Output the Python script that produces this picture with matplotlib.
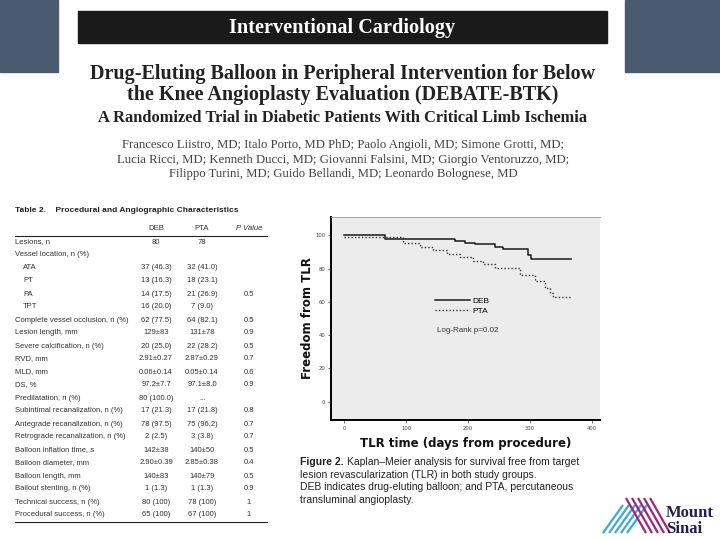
#!/usr/bin/env python3

import matplotlib
matplotlib.use('Agg')
import matplotlib.pyplot as plt
from matplotlib.patches import Rectangle
from matplotlib.lines import Line2D

W, H = 720, 540

# Kaplan-Meier curves
deb_days = [0, 66, 179, 195, 211, 244, 256, 297, 302, 366]
deb_free = [100, 98.0, 96.7, 95.6, 94.5, 93.2, 91.8, 88.0, 85.8, 85.8]
pta_days = [0, 95, 123, 144, 166, 187, 208, 224, 244, 284, 308, 324, 332, 337, 366]
pta_free = [98.8, 95.6, 92.9, 91.3, 89.0, 87.0, 84.7, 83.0, 80.3, 76.0, 72.7, 68.3, 65.6, 62.8, 62.8]
x_ticks = [0, 100, 200, 300, 400]
y_ticks = [0, 20, 40, 60, 80, 100]

# Table 2
row_labels = [
    'Lesions, n', 'Vessel location, n (%)', 'ATA', 'PT', 'PA', 'TPT',
    'Complete vessel occlusion, n (%)', 'Lesion length, mm',
    'Severe calcification, n (%)', 'RVD, mm', 'MLD, mm', 'DS, %',
    'Predilatation, n (%)', 'Subintimal recanalization, n (%)',
    'Antegrade recanalization, n (%)', 'Retrograde recanalization, n (%)',
    'Balloon inflation time, s', 'Balloon diameter, mm', 'Balloon length, mm',
    'Bailout stenting, n (%)', 'Technical success, n (%)', 'Procedural success, n (%)',
]
indented = ['ATA', 'PT', 'PA', 'TPT']
deb_col = ['80', '', '37 (46.3)', '13 (16.3)', '14 (17.5)', '16 (20.0)', '62 (77.5)',
           '129±83', '20 (25.0)', '2.91±0.27', '0.06±0.14', '97.2±7.7', '80 (100.0)',
           '17 (21.3)', '78 (97.5)', '2 (2.5)', '142±38', '2.90±0.39', '140±83',
           '1 (1.3)', '80 (100)', '65 (100)']
pta_col = ['78', '', '32 (41.0)', '18 (23.1)', '21 (26.9)', '7 (9.0)', '64 (82.1)',
           '131±78', '22 (28.2)', '2.87±0.29', '0.05±0.14', '97.1±8.0', '...',
           '17 (21.8)', '75 (96.2)', '3 (3.8)', '140±50', '2.85±0.38', '140±79',
           '1 (1.3)', '78 (100)', '67 (100)']
p_col = ['', '', '', '', '0.5', '', '0.5', '0.9', '0.5', '0.7', '0.6', '0.9', '',
         '0.8', '0.7', '0.7', '0.5', '0.4', '0.5', '0.9', '1', '1']

authors = [
    'Francesco Liistro, MD; Italo Porto, MD PhD; Paolo Angioli, MD; Simone Grotti, MD;',
    'Lucia Ricci, MD; Kenneth Ducci, MD; Giovanni Falsini, MD; Giorgio Ventoruzzo, MD;',
    'Filippo Turini, MD; Guido Bellandi, MD; Leonardo Bolognese, MD',
]
caption = [
    'lesion revascularization (TLR) in both study groups.',
    'DEB indicates drug-eluting balloon; and PTA, percutaneous',
    'transluminal angioplasty.',
]


def fx(x):
    return x / W


def fy(y):
    return 1 - y / H


fig = plt.figure(figsize=(7.2, 5.4), dpi=100)
fig.patch.set_facecolor('white')

serif = ['Liberation Serif', 'DejaVu Serif']
sans = ['Liberation Sans', 'DejaVu Sans']
txt = '#333333'

# slide decoration
side = '#4a5a6f'
fig.patches.append(Rectangle((0, fy(72)), fx(58), 72 / H, transform=fig.transFigure,
                             color=side, zorder=0))
fig.patches.append(Rectangle((fx(625), fy(72)), fx(95), 72 / H, transform=fig.transFigure,
                             color=side, zorder=0))
fig.patches.append(Rectangle((fx(78), fy(43)), fx(607 - 78), 32 / H, transform=fig.transFigure,
                             color='#1a1a1a', zorder=1))

fig.text(fx(342), fy(28), 'Interventional Cardiology', color='white', family=serif,
         weight='bold', fontsize=14.6, ha='center', va='center')
fig.text(fx(343), fy(74), 'Drug-Eluting Balloon in Peripheral Intervention for Below',
         family=serif, weight='bold', fontsize=14.5, ha='center', va='center', color='#222222')
fig.text(fx(343), fy(95), 'the Knee Angioplasty Evaluation (DEBATE-BTK)',
         family=serif, weight='bold', fontsize=14.5, ha='center', va='center', color='#222222')
fig.text(fx(343), fy(118), 'A Randomized Trial in Diabetic Patients With Critical Limb Ischemia',
         family=serif, weight='bold', fontsize=11.8, ha='center', va='center', color='#222222')
for i, line in enumerate(authors):
    fig.text(fx(343), fy(145 + i * 14.5), line, family=serif, fontsize=9.2,
             ha='center', va='center', color='#444444')

# table
fig.text(fx(15), fy(211), 'Table 2.    Procedural and Angiographic Characteristics',
         family=sans, weight='bold', fontsize=6.0, ha='left', va='center', color='#222222')
for name, xc in [('DEB', 156), ('PTA', 202), ('P Value', 249)]:
    fig.text(fx(xc), fy(229), name, family=sans, fontsize=5.6, ha='center', va='center',
             color=txt, style='italic' if name.startswith('P ') else 'normal')
fig.add_artist(Line2D([fx(15), fx(267)], [fy(236), fy(236)], color='#222222', lw=0.8))
for i, lab in enumerate(row_labels):
    y = fy(242 + i * 13.0)
    indent = 8 if lab in indented else 0
    fig.text(fx(15 + indent), y, lab, family=sans, fontsize=5.5, ha='left', va='center',
             color=txt)
    fig.text(fx(156), y, deb_col[i], family=sans, fontsize=5.5, ha='center', va='center',
             color=txt)
    fig.text(fx(202), y, pta_col[i], family=sans, fontsize=5.5, ha='center', va='center',
             color=txt)
    fig.text(fx(249), y, p_col[i], family=sans, fontsize=5.5, ha='center', va='center',
             color=txt)
fig.add_artist(Line2D([fx(15), fx(267)], [fy(522), fy(522)], color='#222222', lw=0.8))

# Kaplan-Meier plot
ax = fig.add_axes([fx(331), fy(420), fx(600 - 331), (420 - 217) / H])
ax.set_facecolor('#ececec')
ax.step(deb_days, deb_free, where='post', color='#1a1a1a', lw=1.1, label='DEB')
ax.step(pta_days, pta_free, where='post', color='#333333', lw=1.0, ls=(0, (1, 1.5)), label='PTA')
ax.set_xlim(-21, 413)
ax.set_ylim(-11, 111)
ax.set_xticks(x_ticks)
ax.set_yticks(y_ticks)
ax.tick_params(labelsize=3.8, length=2, width=0.5, colors='#444444', pad=2)
ax.spines['left'].set_linewidth(1.4)
ax.spines['bottom'].set_linewidth(1.4)
ax.spines['right'].set_visible(False)
ax.spines['top'].set_color('#999999')
ax.spines['top'].set_linewidth(0.6)
ax.set_xlabel('TLR time (days from procedure)', family=['DejaVu Sans'], weight='bold',
              fontsize=8.5, labelpad=5, color='#111111')
ax.set_ylabel('Freedom from TLR', family=['DejaVu Sans'], weight='bold', fontsize=8.5,
              labelpad=1, color='#111111')
ax.legend(loc='upper left', bbox_to_anchor=(0.36, 0.64), frameon=False,
          handlelength=4.2, handletextpad=0.3, labelspacing=0.2, prop={'family': sans, 'size': 6})
ax.text(0.395, 0.44, 'Log-Rank p=0.02', transform=ax.transAxes, family=sans, fontsize=5.8,
        color='#333333', va='center')

# caption
fig_lbl = fig.text(fx(300), fy(462), 'Figure 2.', family=sans, weight='bold', fontsize=7.5,
                   va='center', ha='left', color='#222222')
fig.canvas.draw()
bb = fig_lbl.get_window_extent(renderer=fig.canvas.get_renderer())
fig.text(bb.x1 / W + fx(3), fy(462), 'Kaplan\u2013Meier analysis for survival free from target',
         family=sans, fontsize=7.5, va='center', ha='left', color='#222222')
for i, line in enumerate(caption):
    fig.text(fx(300), fy(475 + i * 12.3), line, family=sans, fontsize=7.5, va='center',
             ha='left', color='#222222')

# Mount Sinai logo
for k in range(5):
    x0 = 603 + k * 6
    fig.add_artist(Line2D([fx(x0), fx(x0 + 20)], [fy(533), fy(505)], color='#3fa9d6',
                          lw=1.6, solid_capstyle='butt'))
for k in range(5):
    x0 = 626 + k * 6
    fig.add_artist(Line2D([fx(x0), fx(x0 + 20)], [fy(498), fy(533)], color='#a0257e',
                          lw=1.6, solid_capstyle='butt'))
fig.text(fx(666), fy(513), 'Mount', family=serif, weight='bold', fontsize=12, va='center',
         ha='left', color='#221f4b')
fig.text(fx(666), fy(529), 'Sinai', family=serif, weight='bold', fontsize=12, va='center',
         ha='left', color='#221f4b')

fig.savefig('out.png', dpi=100)
